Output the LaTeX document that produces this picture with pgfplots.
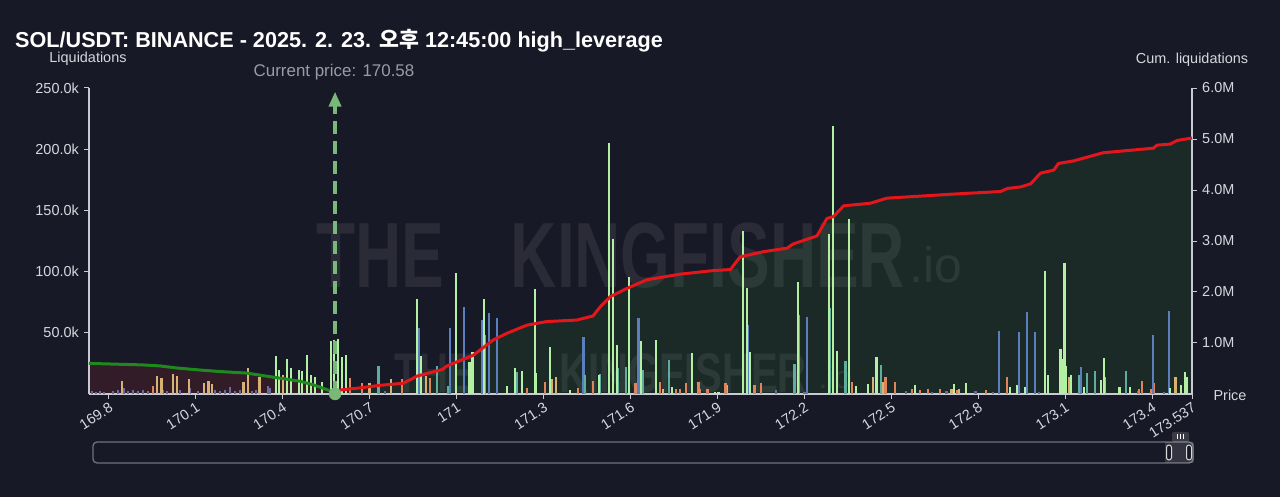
\documentclass[border=0pt]{standalone}
\usepackage{fontspec}
\setmainfont{Liberation Sans}
\newfontfamily\krfont{Noto Sans CJK KR}
\usepackage{pgfplots}
\pgfplotsset{compat=1.18}
\usetikzlibrary{arrows.meta}

\definecolor{bg}{HTML}{181926}
\definecolor{axisc}{HTML}{C8C9D2}
\definecolor{lbl}{HTML}{D6D7DE}
\definecolor{cpc}{HTML}{9A9BA5}
\definecolor{fillgreen}{HTML}{1B2A27}
\definecolor{fillred}{HTML}{321C27}
\definecolor{redline}{HTML}{E3161B}
\definecolor{greenline}{HTML}{1E8A1E}
\definecolor{markc}{HTML}{78B878}
\definecolor{grayp}{HTML}{6A6D9B}
\definecolor{tanc}{HTML}{D8B272}
\definecolor{orangec}{HTML}{E0845A}
\definecolor{bluec}{HTML}{5A7FBF}
\definecolor{tealc}{HTML}{5EAE9E}
\definecolor{lgreen}{HTML}{B4F0A4}
\definecolor{sliderc}{HTML}{70717C}

\pgfplotsset{
  base/.style={at={(89bp,103bp)}, anchor=south west, scale only axis,
    width=1103bp, height=306bp, xmin=169.731, xmax=173.537,
    enlargelimits=false, scaled y ticks=false, scaled x ticks=false},
  bars/.style={ycomb, draw=#1, line width=2.2bp, mark=none},
}

\begin{document}
\begin{tikzpicture}
\fill[bg] (0,0) rectangle (1280bp,497bp);

% ---------- area fills (cumulative scale) ----------
\begin{axis}[base, ymin=0, ymax=6, hide axis]
\addplot[fill=fillred, draw=none] coordinates {
(169.731,0.60) (169.918,0.57) (169.976,0.55) (170.034,0.51) (170.114,0.47)
(170.183,0.44) (170.275,0.41) (170.344,0.35) (170.413,0.29) (170.459,0.25)
(170.505,0.18) (170.540,0.11) (170.569,0.05) (170.58,0.0)} \closedcycle;
\addplot[fill=fillgreen, draw=none] coordinates {
(170.58,0.05) (170.60,0.08) (170.666,0.12) (170.735,0.17) (170.815,0.21)
(170.84,0.28) (170.862,0.35) (170.95,0.48) (170.966,0.55) (171.057,0.76)
(171.126,1.06) (171.173,1.19) (171.242,1.35) (171.31,1.42) (171.414,1.45)
(171.47,1.53) (171.495,1.71) (171.53,1.91) (171.587,2.07) (171.656,2.24)
(171.771,2.35) (171.885,2.42) (171.944,2.44) (171.978,2.69) (172.058,2.79)
(172.14,2.86) (172.16,2.94) (172.243,3.10) (172.277,3.44) (172.30,3.48)
(172.335,3.69) (172.427,3.74) (172.484,3.84) (172.60,3.88) (172.714,3.92)
(172.876,3.97) (172.90,4.03) (172.945,4.06) (172.98,4.12) (173.014,4.33)
(173.06,4.39) (173.076,4.52) (173.128,4.57) (173.23,4.73) (173.404,4.82)
(173.416,4.88) (173.462,4.90) (173.485,4.97) (173.537,5.02)} \closedcycle;
\end{axis}

% ---------- watermark ----------
\begin{scope}[text=white, opacity=0.08]
\node[font=\fontsize{93}{93}\selectfont\bfseries, xscale=0.69, transform shape] at (380bp,241bp) {THE};
\node[font=\fontsize{93}{93}\selectfont\bfseries, xscale=0.69, transform shape] at (708bp,241bp) {KINGFISHER};
\node[font=\fontsize{50}{50}\selectfont, anchor=base west] at (906bp,214bp) {.io};
\node[font=\fontsize{56}{56}\selectfont\bfseries, xscale=0.72, transform shape] at (435bp,124bp) {THE};
\node[font=\fontsize{56}{56}\selectfont\bfseries, xscale=0.72, transform shape] at (683bp,124bp) {KINGFISHER};
\node[font=\fontsize{32}{32}\selectfont, anchor=base west] at (815bp,108bp) {.io};
\end{scope}

% ---------- bars (left scale) ----------
\begin{axis}[base, ymin=0, ymax=250000,
  axis x line*=bottom, axis y line*=left,
  axis line style={-, draw=axisc, line width=1.1bp},
  tick align=outside, major tick length=5bp,
  tick style={draw=axisc, line width=1bp},
  ytick={50000,100000,150000,200000,250000},
  yticklabels={50.0k,100.0k,150.0k,200.0k,250.0k},
  yticklabel style={font=\fontsize{14.5}{17}\selectfont, text=lbl, inner sep=5bp},
  xtick={169.8,170.1,170.4,170.7,171,171.3,171.6,171.9,172.2,172.5,172.8,173.1,173.4,173.537},
  xticklabels={169.8,170.1,170.4,170.7,171,171.3,171.6,171.9,172.2,172.5,172.8,173.1,173.4,173.537},
  xticklabel style={font=\fontsize{14.5}{17}\selectfont, text=lbl, rotate=33, anchor=north east, inner sep=2bp},
]
\addplot[bars=grayp] coordinates {
(169.741,2500) (169.755,2000) (169.769,2500) (169.783,1800) (169.814,2500)
(169.831,3000) (169.852,4900) (169.866,2500) (169.883,3300) (169.900,2500)
(169.917,3000) (169.935,2200) (169.986,3000) (170.000,2500) (170.045,3300)
(170.080,4600) (170.107,2500) (170.166,3000) (170.183,2500) (170.200,3300)
(170.218,5600) (170.235,2500) (170.252,3000) (170.294,2500) (170.307,3300)
(170.349,6500) (170.356,5000) (170.752,2500) (171.391,2500) (172.101,3000)
(172.20,2000) (172.47,2500) (172.55,2500) (172.64,2000) (172.69,2500)
(172.79,2800) (172.85,2000) (173.01,2000) (173.35,2500) (173.44,2000)};
\addplot[bars=tanc] coordinates {
(169.845,11000) (169.965,15000) (169.981,13300) (170.020,16300) (170.034,14700)
(170.075,12200) (170.128,8700) (170.143,10600) (170.156,7900) (170.264,10000)
(170.279,21000) (170.319,13600) (170.400,15500) (170.699,9200) (170.772,12000)
(170.894,14700) (171.138,10000) (171.328,12500) (171.341,13600) (171.711,4000)
(171.932,7000) (172.436,14200) (172.471,10000) (172.707,4000) (172.734,4000)
(173.114,14200) (173.238,13600) (173.480,13600)};
\addplot[bars=orangec] coordinates {
(169.953,6500) (170.632,12800) (170.672,9200) (170.812,12000) (170.908,12800)
(171.025,5000) (171.242,4500) (171.305,10000) (171.417,4600) (171.470,10900)
(171.617,9200) (171.700,10000) (171.757,4000) (171.771,4000) (171.792,9200)
(171.834,10000) (171.840,4000) (171.865,4000) (171.927,9200) (172.027,7400)
(172.050,8700) (172.364,10000) (172.479,13600) (172.511,10000) (172.571,4000)
(172.597,3300) (172.625,4000) (172.666,4000) (172.726,3300) (172.826,3500)
(172.899,14200) (173.353,4000) (173.365,10900) (173.397,4000) (173.407,8700)};
\addplot[bars=bluec] coordinates {
(170.868,53700) (170.977,53700) (171.025,70800) (171.087,60500) (171.112,66400)
(171.138,61800) (171.437,46800) (171.627,61800) (172.003,56400) (172.209,62600)
(172.872,51700) (172.940,51000) (172.968,67300) (172.994,51000) (173.154,22300)
(173.402,48200) (173.457,68000)};
\addplot[bars=tealc] coordinates {
(170.730,22900) (170.931,22900) (170.971,6500) (171.098,48000) (171.209,18200)
(171.443,15500) (171.495,16300) (171.557,21000) (171.584,22300) (171.642,19600)
(171.733,27500) (172.165,24700) (172.181,64500) (172.289,70000) (172.341,27200)
(172.464,24000) (173.146,15500) (173.175,16900) (173.201,19000) (173.308,19000)};
\addplot[bars=lgreen] coordinates {
(170.375,31000) (170.387,19600) (170.415,28900) (170.427,21000) (170.455,19600)
(170.467,18800) (170.484,31900) (170.496,15500) (170.510,14200) (170.535,10000)
(170.565,43500) (170.577,44000) (170.590,44700) (170.605,30500) (170.618,31900)
(170.863,78000) (170.876,31000) (170.998,99000) (171.044,26000) (171.054,34600)
(171.094,78000) (171.173,6500) (171.202,21000) (171.225,18800) (171.270,85500)
(171.274,16900) (171.322,38000) (171.391,3000) (171.490,15500) (171.525,205000)
(171.539,126600) (171.552,40000) (171.595,95900) (171.635,43300) (171.688,43800)
(171.743,6000) (171.811,33500) (171.892,2000) (171.903,2000) (171.987,133000)
(172.001,87000) (172.013,34600) (172.176,91800) (172.284,131000) (172.298,219000)
(172.312,35400) (172.352,142700) (172.378,6500) (172.418,8200) (172.448,30000)
(172.582,7400) (172.717,8200) (172.757,8700) (172.908,6000) (172.933,7400)
(172.962,6000) (173.030,100800) (173.039,15500) (173.083,36500) (173.088,28300)
(173.097,107000) (173.101,22900) (173.120,15500) (173.163,6000) (173.223,11400)
(173.232,29100) (173.287,6000) (173.324,6000) (173.462,5000) (173.500,7400)
(173.512,18200) (173.520,13600)};
% current price marker
\addplot[draw=markc, line width=4bp, dash pattern=on 13bp off 7bp, -{Triangle[length=15bp,width=12bp]}] coordinates {(170.58,0) (170.58,247000)};
\end{axis}

% ---------- cumulative lines (right scale) ----------
\begin{axis}[base, ymin=0, ymax=6,
  axis y line*=right, axis x line=none,
  axis line style={-, draw=axisc, line width=1.1bp},
  tick align=outside, major tick length=5bp,
  tick style={draw=axisc, line width=1bp},
  ytick={1,2,3,4,5,6},
  yticklabels={1.0M,2.0M,3.0M,4.0M,5.0M,6.0M},
  yticklabel style={font=\fontsize{14.5}{17}\selectfont, text=lbl, inner sep=5bp},
  clip=false,
]
\addplot[draw=greenline, line width=3bp, line join=round] coordinates {
(169.731,0.60) (169.918,0.57) (169.976,0.55) (170.034,0.51) (170.114,0.47)
(170.183,0.44) (170.275,0.41) (170.344,0.35) (170.413,0.29) (170.459,0.25)
(170.505,0.18) (170.540,0.11) (170.569,0.05) (170.58,0.0)};
\addplot[draw=redline, line width=3bp, line join=round] coordinates {
(170.58,0.05) (170.60,0.08) (170.666,0.12) (170.735,0.17) (170.815,0.21)
(170.84,0.28) (170.862,0.35) (170.95,0.48) (170.966,0.55) (171.057,0.76)
(171.126,1.06) (171.173,1.19) (171.242,1.35) (171.31,1.42) (171.414,1.45)
(171.47,1.53) (171.495,1.71) (171.53,1.91) (171.587,2.07) (171.656,2.24)
(171.771,2.35) (171.885,2.42) (171.944,2.44) (171.978,2.69) (172.058,2.79)
(172.14,2.86) (172.16,2.94) (172.243,3.10) (172.277,3.44) (172.30,3.48)
(172.335,3.69) (172.427,3.74) (172.484,3.84) (172.60,3.88) (172.714,3.92)
(172.876,3.97) (172.90,4.03) (172.945,4.06) (172.98,4.12) (173.014,4.33)
(173.06,4.39) (173.076,4.52) (173.128,4.57) (173.23,4.73) (173.404,4.82)
(173.416,4.88) (173.462,4.90) (173.485,4.97) (173.537,5.02)};
\addplot[only marks, mark=*, mark size=6bp, color=markc] coordinates {(170.58,0)};
\end{axis}

% ---------- texts ----------
\node[anchor=base west, text=white, font=\fontsize{21.7}{25}\selectfont\bfseries, inner sep=0pt] at (15bp,449.5bp)
  {SOL/USDT: BINANCE - 2025. 2. 23. {\krfont\bfseries 오후} 12:45:00 high\_leverage};
\node[text=lbl, font=\fontsize{14.5}{17}\selectfont] at (88bp,438bp) {Liquidations};
\node[text=lbl, font=\fontsize{14.5}{17}\selectfont] at (1192bp,437bp) {Cum. liquidations};
\node[text=lbl, font=\fontsize{14.5}{17}\selectfont] at (1230bp,102bp) {Price};
\node[text=cpc, font=\fontsize{17}{20}\selectfont] at (334bp,425bp) {Current price: 170.58};

% ---------- range slider ----------
\draw[sliderc, line width=1.3bp, rounded corners=4bp] (93bp,34bp) rectangle (1193bp,55bp);
\fill[white, opacity=0.12] (1165bp,34bp) rectangle (1194bp,55bp);
\fill[white, opacity=0.15, rounded corners=2bp] (1172bp,55bp) rectangle (1189bp,65bp);
\draw[white, line width=0.8bp] (1177.5bp,57.5bp) -- (1177.5bp,62.5bp) (1180.5bp,57.5bp) -- (1180.5bp,62.5bp) (1183.5bp,57.5bp) -- (1183.5bp,62.5bp);
\draw[white!85!black, line width=1bp, rounded corners=2.5bp, fill=bg] (1166.5bp,37bp) rectangle (1171.5bp,52bp);
\draw[white!85!black, line width=1bp, rounded corners=2.5bp, fill=bg] (1186.5bp,37bp) rectangle (1191.5bp,52bp);

\pgfresetboundingbox
\path (0,0) rectangle (1280bp,497bp);
\end{tikzpicture}
\end{document}
